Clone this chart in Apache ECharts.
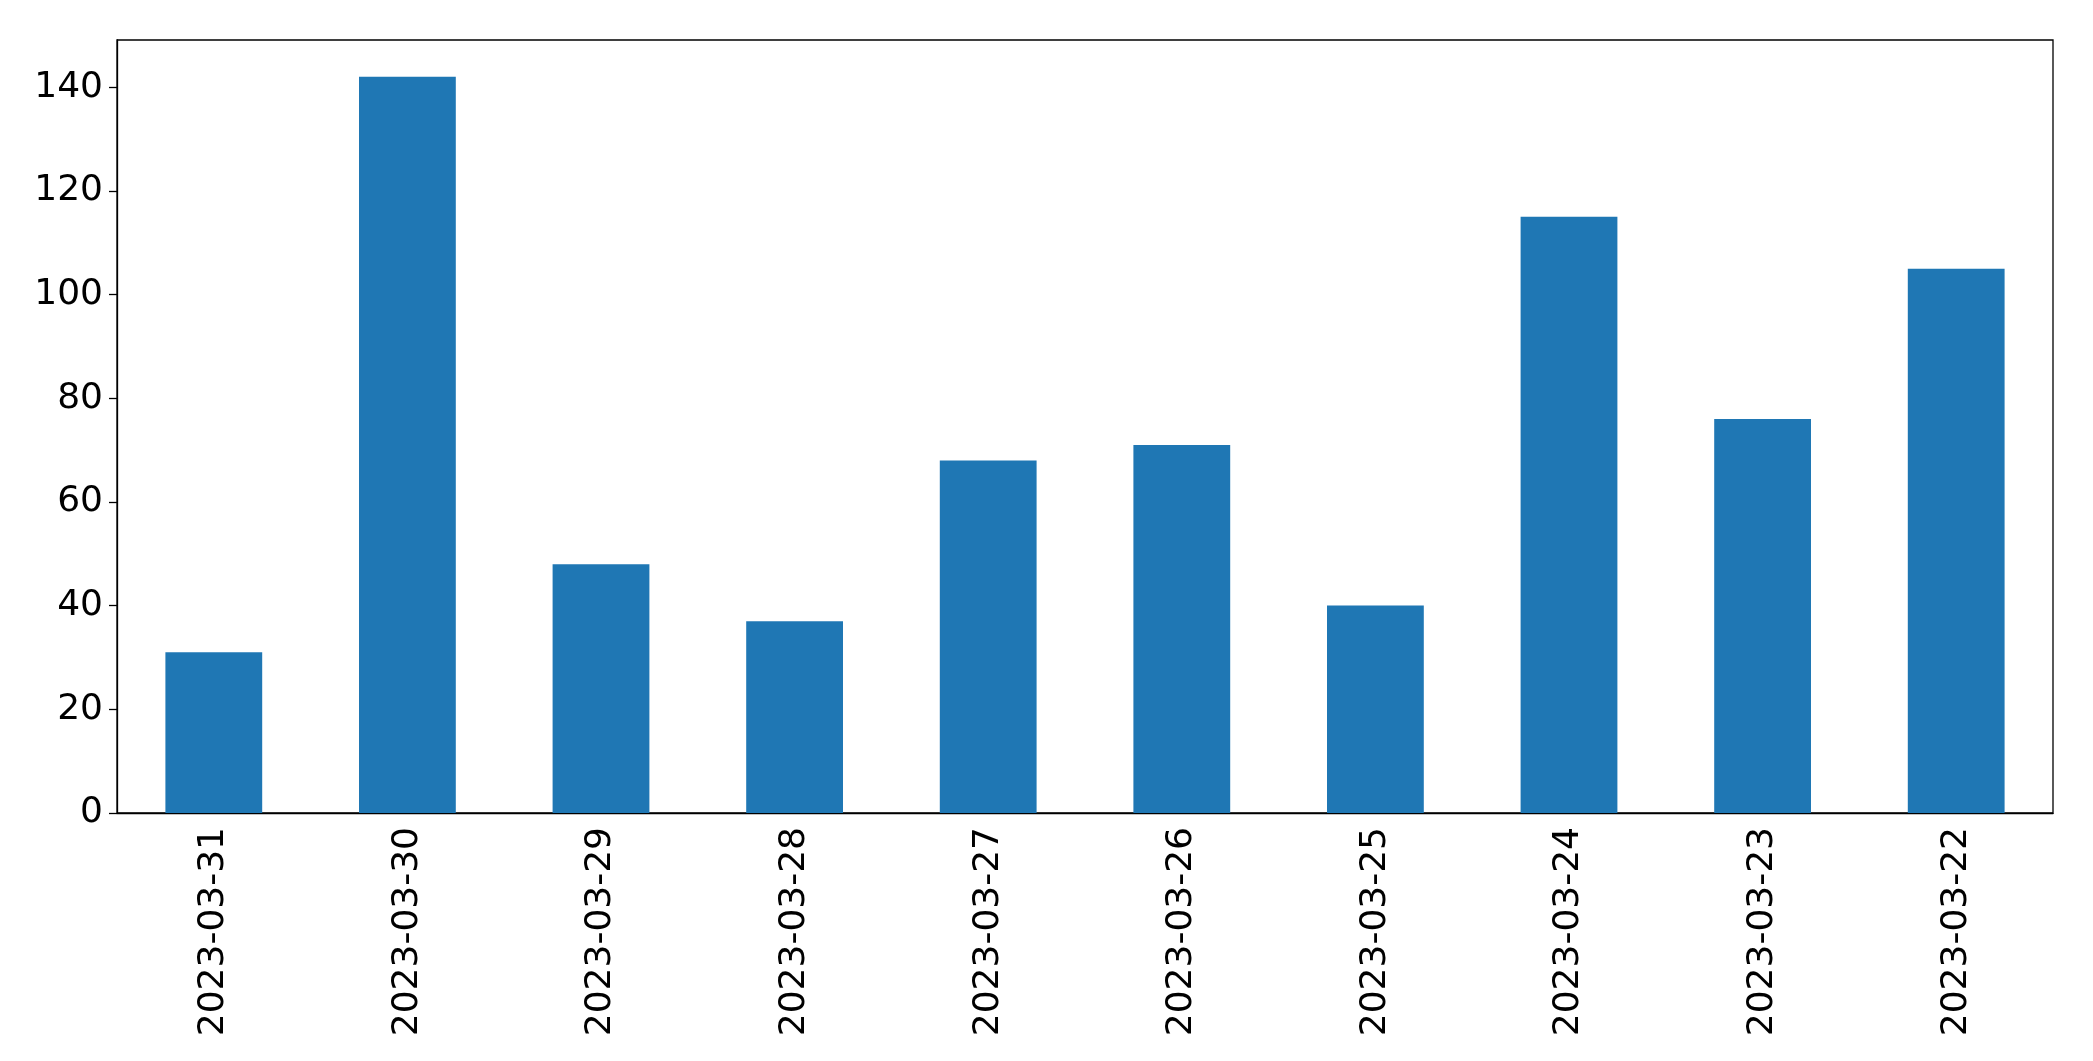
<!DOCTYPE html><html><head><meta charset="utf-8"><script src="https://cdn.jsdelivr.net/npm/echarts@6/dist/echarts.min.js"></script>
<style>html,body{margin:0;background:#fff}#c{width:2093px;height:1061px}</style></head><body><div id="c"></div><script>
const categories=["2023-03-31","2023-03-30","2023-03-29","2023-03-28","2023-03-27","2023-03-26","2023-03-25","2023-03-24","2023-03-23","2023-03-22"];
const values=[31,142,48,37,68,71,40,115,76,105];
const yTicks=[0,20,40,60,80,100,120,140];
const ch=echarts.init(document.getElementById('c'));
const font='DejaVu Sans';
ch.setOption({animation:false,
grid:{left:117,right:40,top:40,bottom:248,show:true,borderColor:'#000',borderWidth:1.3,backgroundColor:'transparent'},
xAxis:{type:'category',data:categories,axisLine:{lineStyle:{color:'#000',width:1.3}},axisTick:{alignWithLabel:true,length:8,lineStyle:{color:'#000',width:1.3}},
axisLabel:{rotate:90,color:'#000',fontFamily:font,fontSize:36,margin:14}},
yAxis:{type:'value',min:0,max:149.1,interval:20,splitLine:{show:false},axisLine:{show:true,lineStyle:{color:'#000',width:1.3}},axisTick:{show:true,length:8,lineStyle:{color:'#000',width:1.3}},
axisLabel:{color:'#000',fontFamily:font,fontSize:36,margin:14,showMaxLabel:false,formatter:v=>yTicks.includes(v)?String(v):''}},
series:[{type:'bar',data:values,barCategoryGap:'50%',itemStyle:{color:'#1f77b4'}}]});
</script></body></html>
